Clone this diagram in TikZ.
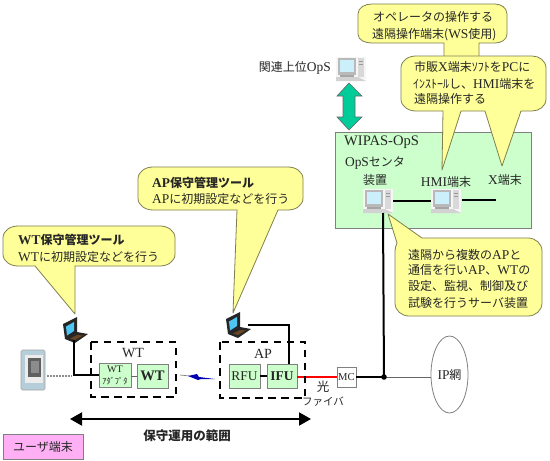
\documentclass[tikz,border=0pt]{standalone}
\usepackage{fontspec}
\setmainfont{Noto Sans CJK JP}
\newfontfamily\latf[Scale=1.12]{Liberation Serif}
\newcommand{\La}[1]{{\latf #1}}
\newcommand{\fs}[1]{\fontsize{#1}{#1}\selectfont}
\definecolor{ybub}{HTML}{FFFF99}
\definecolor{ybor}{HTML}{7F7F50}
\definecolor{gbox}{HTML}{CCFFCC}
\definecolor{gbor}{HTML}{808080}
\definecolor{txt}{HTML}{262626}
\definecolor{garrow}{HTML}{00CC99}
\definecolor{pinkbox}{HTML}{FFB0F5}
\usetikzlibrary{shapes.geometric,arrows.meta}
\tikzset{
 bubble/.style={draw=ybor,fill=ybub,line width=0.8pt,line join=round},
 lbl/.style={inner sep=0pt,text=txt,font=\fs{12}},
 lbll/.style={lbl,anchor=west},
 gboxst/.style={draw=gbor,fill=gbox,line width=0.9pt,inner sep=0pt,text=txt},
 zone/.style={draw=black,line width=2pt,dash pattern=on 7.5pt off 5.5pt},
 cable/.style={draw=black,line width=2pt},
 laptop/.pic={
  \fill[black!85] (0,7)--(14,0)--(14,15)--(25,17)--(12,26)--(2,22)--cycle;
  \fill[cyan!70!white] (3,9.5)--(11,5)--(11,14)--(4,18.5)--cycle;
  \fill[brown!55!black] (7,21.5)--(14,18)--(20,18.5)--(12,23)--cycle;
 },
 desktop/.pic={
  \fill[white!93!gray] (0,0) rectangle (30,24);
  \fill[gray!35] (0,20)--(22,20)--(30,24)--(0,24)--cycle;
  \fill[gray!55] (2,1) rectangle (20,18);
  \fill[cyan!20!white] (4,3) rectangle (18,15);
  \fill[gray!30] (22,1) rectangle (28,20);
  \draw[gray!80,line width=0.6pt] (23,4)--(27,4) (23,7)--(27,7);
  \fill[gray!70] (4,18) rectangle (18,20);
 },
}
\begin{document}
\begin{tikzpicture}[x=1pt,y=-1pt]
\useasboundingbox[fill=white] (0,0) rectangle (550,461);

% OpS area
\node[gboxst,minimum width=196pt,minimum height=96pt] (ops) at (433,180) {};
\node[lbll,font=\fs{13}] (wipas) at (344,142) {\La{WIPAS-OpS}};
\node[lbl] (center) at (375,163) {\La{OpS}センタ};
\node[lbl] (sou) at (375,180) {装置};
\node[lbl,font=\fs{12}] (hmit) at (446,182) {\La{HMI}端末};
\node[lbl] (xt) at (505,180) {\La{X}端末};

% top-right callouts
\path[bubble] (358,14) to[out=90,in=180] (372,4) -- (495,4) to[out=0,in=90] (507,14) -- (507,34) to[out=-90,in=0] (495,43)
   -- (479,43) -- (479,60) -- (444,60) -- (444,43) -- (372,43) to[out=180,in=-90] (358,34) -- cycle;
\node[lbll] (t1) at (373,17) {オペレータの操作する};
\node[lbll] (t2) at (372,35) {遠隔操作端末(\La{WS}使用)};

\path[bubble] (401,68) to[out=90,in=180] (416,56) -- (532,56) to[out=0,in=90] (546,68) -- (546,99) to[out=-90,in=0] (532,111)
   -- (521,111) -- (502,166) -- (485,111) -- (461,111) -- (442,170) -- (443,111) -- (416,111) to[out=180,in=-90] (401,99) -- cycle;
\node[lbll] (s1) at (414,67) {市販\La{X}端末ｿﾌﾄを\La{PC}に};
\node[lbll] (s2) at (413,84) {ｲﾝｽﾄｰﾙし、\La{HMI}端末を};
\node[lbll] (s3) at (414,99) {遠隔操作する};

% server callout
\path[bubble] (395,251) to[out=90,in=-110] (397,243) -- (388,214) -- (422,238) -- (528,238) to[out=0,in=90] (542,251) -- (542,303) to[out=-90,in=0] (528,316) -- (409,316) to[out=180,in=-90] (395,303) -- cycle;
\node[lbll] (v1) at (408,255) {遠隔から複数の\La{AP}と};
\node[lbll] (v2) at (408,270) {通信を行い\La{AP}、\La{WT}の};
\node[lbll] (v3) at (408,286) {設定、監視、制御及び};
\node[lbll] (v4) at (408,303) {試験を行うサーバ装置};

% WT and AP callouts
\path[bubble] (3,238) to[out=90,in=180] (18,226) -- (160,226) to[out=0,in=90] (175,238) -- (175,254) to[out=-90,in=0] (160,266)
   -- (75,266) -- (75,314) -- (35,266) -- (18,266) to[out=180,in=-90] (3,254) -- cycle;
\node[lbll,font=\fs{12}\bfseries] (wt1) at (18,240) {\La{WT}保守管理ツール};
\node[lbll] (wt2) at (18,257) {\La{WT}に初期設定などを行う};

\path[bubble] (138,179) to[out=90,in=180] (153,167) -- (288,167) to[out=0,in=90] (303,179) -- (303,198) to[out=-90,in=0] (288,210)
   -- (278,210) -- (233,313) -- (237,210) -- (153,210) to[out=180,in=-90] (138,198) -- cycle;
\node[lbll,font=\fs{12}\bfseries] (ap1) at (152,183) {\La{AP}保守管理ツール};
\node[lbll] (ap2) at (152,199) {\La{AP}に初期設定などを行う};

% upper OpS
\node[lbl,anchor=east] (kan) at (331,68) {関連上位\La{OpS}};
\pic at (336,57) {desktop};
\draw[draw=black!60,fill=garrow,line width=0.6pt]
  (349,83)--(362,96)--(355,96)--(355,117)--(362,117)--(349,130)--(337,117)--(343,117)--(343,96)--(337,96)--cycle;

% computers in OpS
\pic at (363,189) {desktop};
\pic at (431,189) {desktop};
\coordinate (srvR) at (393,201);
\coordinate (srvB) at (383,213);
\coordinate (hmiL) at (431,201);
\coordinate (hmiR) at (462,200);
\coordinate (xend) at (496,200);
\draw[cable,line width=1.6pt] (srvR)--(hmiL) (hmiR)--(xend);

% network row
\node[gboxst,minimum width=32pt,minimum height=24pt] (adapter) at (115,375) {};
\node[lbl,font=\fs{9}] (adt1) at (115,369) {\La{WT}};
\node[lbl,font=\fs{8.5}] (adt2) at (115,381) {ｱﾀﾞﾌﾟﾀ};
\node[gboxst,minimum width=31pt,minimum height=24pt,font=\fs{13}\bfseries] (wtb) at (152.5,376) {\La{WT}};
\node[gboxst,minimum width=31pt,minimum height=24pt,font=\fs{12}] (rfu) at (244.5,376) {\La{RFU}};
\node[gboxst,minimum width=30pt,minimum height=24pt,font=\fs{12}\bfseries] (ifu) at (282,376) {\La{IFU}};
\node[draw=gbor,fill=white,line width=0.9pt,inner sep=0pt,minimum width=19pt,minimum height=20pt,text=txt,font=\fs{9.5}] (mc) at (346.5,377) {\La{MC}};
\node[draw=gbor,line width=0.8pt,ellipse,inner sep=0pt,minimum width=37pt,minimum height=77pt,text=txt,font=\fs{12}] (ipn) at (449.5,374.5) {\La{IP}網};
\coordinate (dot) at (384,377);
\draw[draw=black!60,line width=0.8pt] (dot)--(ipn.west |- dot);
\draw[cable] (mc.east)--(dot);
\fill[black] (dot) circle (2.8pt);
\draw[cable] (srvB)--(dot);
\draw[draw=red,line width=2pt] (ifu.east |- mc.west)--(mc.west);
\draw[draw=black!60,line width=0.8pt] (adapter.east |- wtb.west)--(wtb.west);
\draw[cable] (rfu.east)--(ifu.west);

\draw[zone] (91,342) rectangle (176,397);
\draw[zone] (220,342) rectangle (305,398);
\node[lbl,font=\fs{12.5}] (wtl) at (133,353) {\La{WT}};
\node[lbl,font=\fs{12.5}] (apl) at (263,354) {\La{AP}};

% laptops
\pic at (63,317) {laptop};
\pic at (226,312) {laptop};
\coordinate (wtlap) at (74,340);
\coordinate (aplap) at (248,325);
\coordinate (ifutop) at (289,364);
\draw[cable] (wtlap)|-(adapter.west);
\draw[cable] (aplap)-|(ifutop);

% user terminal
\fill[cyan!35!gray!50,draw=gray!70,line width=0.6pt,rounded corners=1.5pt] (21,350) rectangle (45,390);
\fill[white!85!gray] (25,355) rectangle (43,383);
\fill[gray!75!black] (28,358) rectangle (41,377);
\fill[black!45] (31,361) rectangle (39,373);
\coordinate (userR) at (47,376);
\coordinate (userE) at (72,376);
\draw[draw=black!45,line width=1.2pt,dash pattern=on 2pt off 1pt] (userR)--(userE);

% radio link
\coordinate (rl) at (180,375);
\draw[draw=black!50,line width=0.7pt] (rl)--(190,376);
\fill[blue!70!black] (188,376)--(197,374)--(199,377)--(215,379)--(201,379)--(198,380)--cycle;

% labels
\node[lbl,font=\fs{12.5}] (hikari) at (323,387) {光};
\node[lbl,font=\fs{10.5}] (fiber) at (323,402) {ファイバ};

% range arrow
\coordinate (rA) at (70,419);
\coordinate (rB) at (311,419);
\draw[line width=2pt,{Triangle[length=12pt,width=13pt]}-{Triangle[length=12pt,width=13pt]}] (rA)--(rB);
\node[lbl,font=\fs{12.5}\bfseries] (range) at (187,436) {保守運用の範囲};

\node[draw=gbor,fill=pinkbox,line width=0.9pt,inner sep=0pt,minimum width=80pt,minimum height=25pt,text=txt,font=\fs{12}] (user) at (43,446.5) {ユーザ端末};
\end{tikzpicture}
\end{document}
